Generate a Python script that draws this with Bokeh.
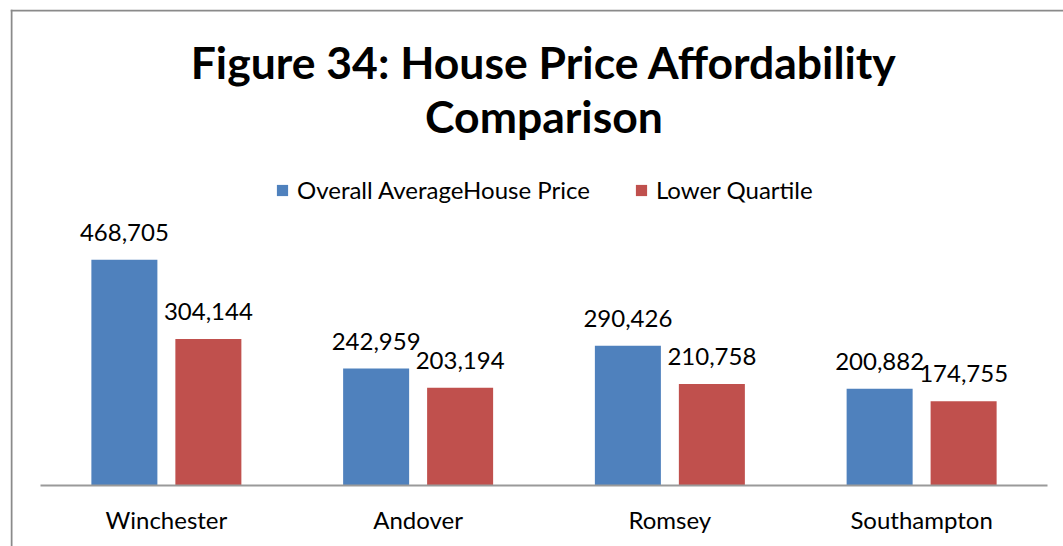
import numpy as np
from bokeh.plotting import figure
from bokeh.models import (ColumnDataSource, LinearAxis, FixedTicker, Range1d,
                          LabelSet, Label, Legend, LegendItem, Span)
from bokeh.embed import file_html
from bokeh.resources import INLINE
from bokeh.core.properties import value

# ---------------- data ----------------
categories = ["Winchester", "Andover", "Romsey", "Southampton"]
average_price = [468705, 242959, 290426, 200882]
lower_quartile = [304144, 203194, 210758, 174755]
series_names = ["Overall AverageHouse Price", "Lower Quartile"]
title_lines = ["Figure 34: House Price Affordability", "Comparison"]

# ---------------- style ----------------
BLUE = "#4F81BD"
RED = "#C0504D"
GREY = "#8a8a8a"
FONT = "Lato"

W, H = 1063, 546
MIN_LEFT, MIN_TOP = 10, 9
PX_PER_CAT = 251.75          # width of one category slot in px
PLOT_LEFT = 30               # px from frame left to first category slot
PLOT_RIGHT_PAD = 16          # px after last slot to frame right
AXIS_FROM_TOP = 476          # px from frame top to the zero line
AXIS_FROM_BOTTOM = 61        # px from zero line to frame bottom
PX_PER_VALUE = 225.7 / 468705.0

n = len(categories)
x_start = -PLOT_LEFT / PX_PER_CAT
x_end = n + PLOT_RIGHT_PAD / PX_PER_CAT
y_end = AXIS_FROM_TOP / PX_PER_VALUE
y_start = -AXIS_FROM_BOTTOM / PX_PER_VALUE

p = figure(width=W, height=H, output_backend="svg", toolbar_location=None, tools="",
           x_range=Range1d(x_start, x_end), y_range=Range1d(y_start, y_end),
           x_axis_location=None, y_axis_location=None,
           min_border_left=MIN_LEFT, min_border_top=MIN_TOP,
           min_border_right=0, min_border_bottom=0,
           outline_line_color=None, background_fill_color="white",
           border_fill_color="white")
p.grid.visible = False

centers = np.arange(n) + 0.5
offset = 0.1668
bar_w = 0.2622

src = ColumnDataSource(dict(
    x_avg=centers - offset, x_lq=centers + offset,
    avg=average_price, lq=lower_quartile,
    avg_lbl=[f"{v:,}" for v in average_price],
    lq_lbl=[f"{v:,}" for v in lower_quartile],
))

r1 = p.vbar(x="x_avg", top="avg", bottom=0, width=bar_w, fill_color=BLUE,
            line_color=None, source=src)
r2 = p.vbar(x="x_lq", top="lq", bottom=0, width=bar_w, fill_color=RED,
            line_color=None, source=src)

for xcol, ycol, tcol in [("x_avg", "avg", "avg_lbl"), ("x_lq", "lq", "lq_lbl")]:
    p.add_layout(LabelSet(x=xcol, y=ycol, text=tcol, source=src,
                          text_align="center", text_baseline="alphabetic",
                          y_offset=19, text_font=value(FONT),
                          text_font_size="24px", text_color="black"))

xaxis = LinearAxis(fixed_location=0,
                   ticker=FixedTicker(ticks=[float(c) for c in centers]),
                   bounds=(0, n),
                   major_label_overrides={float(c): name for c, name in zip(centers, categories)},
                   axis_line_color="#9a9a9a", axis_line_width=2,
                   major_tick_line_color=None, minor_tick_line_color=None,
                   major_label_text_font=FONT, major_label_text_font_size="24px",
                   major_label_text_color="black", major_label_standoff=13)
p.add_layout(xaxis, "below")

legend = Legend(items=[LegendItem(label=series_names[0], renderers=[r1]),
                       LegendItem(label=series_names[1], renderers=[r2])],
                orientation="horizontal", location=(265, 342),
                label_text_font=FONT, label_text_font_size="24px",
                label_text_color="black",
                glyph_width=14, glyph_height=14, label_standoff=8, spacing=44,
                padding=0, margin=0, border_line_color=None,
                background_fill_alpha=0)
p.add_layout(legend)

# chart-area border (left and top edges are visible in the reference)
p.add_layout(Span(location=x_start + 1 / PX_PER_CAT, dimension="height",
                  line_color=GREY, line_width=2))
p.add_layout(Span(location=y_end - 1 / PX_PER_VALUE, dimension="width",
                  line_color=GREY, line_width=2))

title_cx = PLOT_LEFT + n * PX_PER_CAT / 2
p.add_layout(Label(x=title_cx, y=485, x_units="screen", y_units="screen",
                   text=title_lines[0], text_align="center", text_baseline="alphabetic",
                   text_font=FONT, text_font_style="bold", text_font_size="44.5px",
                   text_color="black"))
p.add_layout(Label(x=title_cx, y=431, x_units="screen", y_units="screen",
                   text=title_lines[1], text_align="center", text_baseline="alphabetic",
                   text_font=FONT, text_font_style="bold", text_font_size="44.5px",
                   text_color="black"))

open("out.html", "w").write(file_html(p, INLINE))
